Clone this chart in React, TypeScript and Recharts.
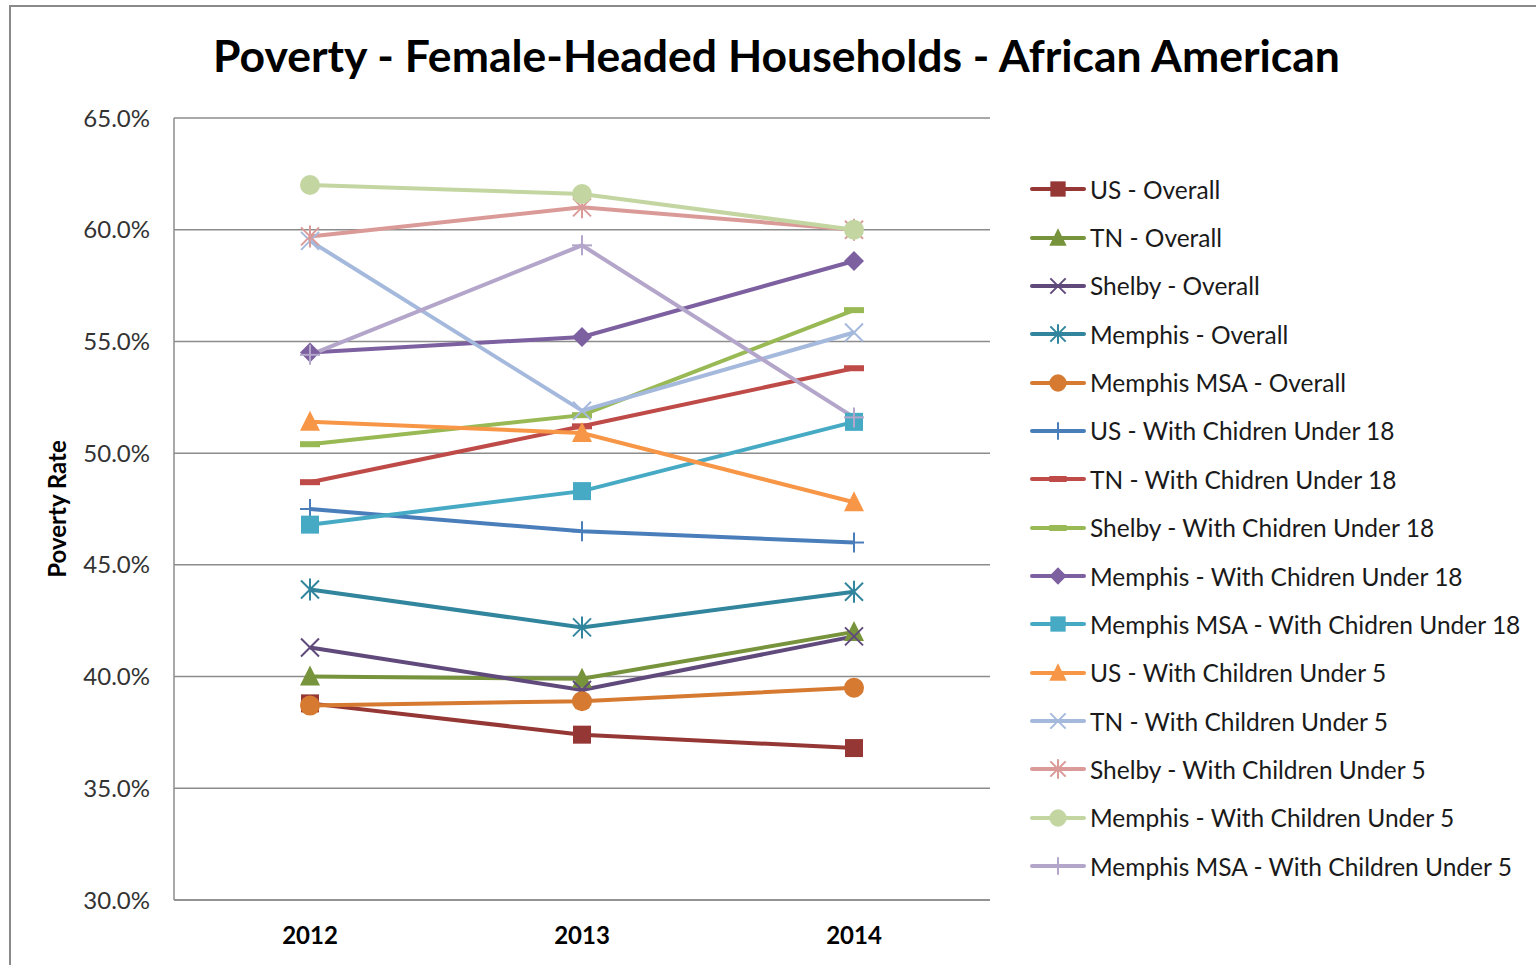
import React from 'react';
import { LineChart, Line, XAxis, YAxis, CartesianGrid } from 'recharts';

// categories and values (percent)
const years = ['2012', '2013', '2014'];
const yTicks = [30, 35, 40, 45, 50, 55, 60, 65];

const usOverall = [38.8, 37.4, 36.8];
const tnOverall = [40.0, 39.9, 42.0];
const shelbyOverall = [41.3, 39.4, 41.8];
const memphisOverall = [43.9, 42.2, 43.8];
const msaOverall = [38.7, 38.9, 39.5];
const usUnder18 = [47.5, 46.5, 46.0];
const tnUnder18 = [48.7, 51.2, 53.8];
const shelbyUnder18 = [50.4, 51.7, 56.4];
const memphisUnder18 = [54.5, 55.2, 58.6];
const msaUnder18 = [46.8, 48.3, 51.4];
const usUnder5 = [51.4, 50.9, 47.8];
const tnUnder5 = [59.5, 51.9, 55.4];
const shelbyUnder5 = [59.7, 61.0, 60.0];
const memphisUnder5 = [62.0, 61.6, 60.0];
const msaUnder5 = [54.4, 59.3, 51.6];

type Shape = 'square' | 'triangle' | 'x' | 'star' | 'circle' | 'plus' | 'diamond' | 'dash';

const series: { name: string; values: number[]; color: string; shape: Shape }[] = [
  { name: 'US - Overall', values: usOverall, color: '#953735', shape: 'square' },
  { name: 'TN - Overall', values: tnOverall, color: '#77933C', shape: 'triangle' },
  { name: 'Shelby - Overall', values: shelbyOverall, color: '#604A7B', shape: 'x' },
  { name: 'Memphis - Overall', values: memphisOverall, color: '#31859C', shape: 'star' },
  { name: 'Memphis MSA - Overall', values: msaOverall, color: '#D57A30', shape: 'circle' },
  { name: 'US - With Chidren Under 18', values: usUnder18, color: '#4A7EBB', shape: 'plus' },
  { name: 'TN - With Chidren Under 18', values: tnUnder18, color: '#BE4B48', shape: 'dash' },
  { name: 'Shelby - With Chidren Under 18', values: shelbyUnder18, color: '#98B954', shape: 'dash' },
  { name: 'Memphis - With Chidren Under 18', values: memphisUnder18, color: '#7D60A0', shape: 'diamond' },
  { name: 'Memphis MSA - With Chidren Under 18', values: msaUnder18, color: '#46AAC5', shape: 'square' },
  { name: 'US - With Children Under 5', values: usUnder5, color: '#F79646', shape: 'triangle' },
  { name: 'TN - With Children Under 5', values: tnUnder5, color: '#A5B9DD', shape: 'x' },
  { name: 'Shelby - With Children Under 5', values: shelbyUnder5, color: '#DA9A98', shape: 'star' },
  { name: 'Memphis - With Children Under 5', values: memphisUnder5, color: '#C3D6A2', shape: 'circle' },
  { name: 'Memphis MSA - With Children Under 5', values: msaUnder5, color: '#B3A6CA', shape: 'plus' },
];

const data = years.map((year, i) => {
  const row: Record<string, string | number> = { year };
  series.forEach(s => {
    row[s.name] = s.values[i];
  });
  return row;
});

const FONT = 'Lato, "Open Sans", sans-serif';

const marker = (shape: Shape, color: string, cx: number, cy: number, scale = 1) => {
  const s = 9 * scale;
  switch (shape) {
    case 'square':
      return <rect x={cx - s} y={cy - s} width={2 * s} height={2 * s} fill={color} />;
    case 'triangle':
      return (
        <polygon
          points={`${cx},${cy - s - 2} ${cx + s + 1},${cy + s} ${cx - s - 1},${cy + s}`}
          fill={color}
        />
      );
    case 'circle':
      return <circle cx={cx} cy={cy} r={s + 1} fill={color} />;
    case 'diamond':
      return (
        <polygon
          points={`${cx},${cy - s - 1} ${cx + s + 1},${cy} ${cx},${cy + s + 1} ${cx - s - 1},${cy}`}
          fill={color}
        />
      );
    case 'dash':
      return <rect x={cx - s - 1} y={cy - 3} width={2 * s + 2} height={6} fill={color} />;
    case 'x':
      return (
        <g stroke={color} strokeWidth={2}>
          <line x1={cx - s} y1={cy - s} x2={cx + s} y2={cy + s} />
          <line x1={cx - s} y1={cy + s} x2={cx + s} y2={cy - s} />
        </g>
      );
    case 'star':
      return (
        <g stroke={color} strokeWidth={2}>
          <line x1={cx - s} y1={cy - s} x2={cx + s} y2={cy + s} />
          <line x1={cx - s} y1={cy + s} x2={cx + s} y2={cy - s} />
          <line x1={cx} y1={cy - s - 2} x2={cx} y2={cy + s + 2} />
        </g>
      );
    case 'plus':
      return (
        <g stroke={color} strokeWidth={2}>
          <line x1={cx - s - 1} y1={cy} x2={cx + s + 1} y2={cy} />
          <line x1={cx} y1={cy - s - 1} x2={cx} y2={cy + s + 1} />
        </g>
      );
  }
};

const makeDot = (shape: Shape, color: string) => (props: any) => {
  const { cx, cy, index } = props;
  if (cx == null || cy == null) return <g key={index} />;
  return <g key={index}>{marker(shape, color, cx, cy)}</g>;
};

const App = () => {
  return (
    <div style={{ position: 'absolute', left: 0, top: 0, width: 1536, height: 965, background: '#fff', overflow: 'hidden' }}>
      <div
        style={{
          position: 'absolute',
          left: 9,
          top: 5,
          width: 1600,
          height: 1000,
          borderLeft: '2px solid #8a8a8a',
          borderTop: '2px solid #8a8a8a',
        }}
      />
      <div
        style={{
          position: 'absolute',
          left: 0,
          width: 1553,
          top: 28,
          textAlign: 'center',
          fontFamily: FONT,
          fontWeight: 700,
          fontSize: 44.5,
          color: '#000',
          lineHeight: '54px',
        }}
      >
        Poverty - Female-Headed Households - African American
      </div>
      <div style={{ position: 'absolute', left: 0, top: 0 }}>
        <LineChart
          width={1536}
          height={965}
          data={data}
          margin={{ top: 118, right: 546, bottom: 25, left: 10 }}
        >
          <CartesianGrid vertical={false} stroke="#8c8c8c" strokeWidth={1.5} />
          <XAxis
            dataKey="year"
            padding={{ left: 136, right: 136 }}
            axisLine={{ stroke: '#8c8c8c', strokeWidth: 1.5 }}
            tickLine={false}
            tickSize={0}
            tickMargin={27}
            height={40}
            tick={{ fill: '#000', fontSize: 24, fontWeight: 700, fontFamily: FONT }}
          />
          <YAxis
            domain={[30, 65]}
            ticks={yTicks}
            width={164}
            axisLine={{ stroke: '#8c8c8c', strokeWidth: 1.5 }}
            tickLine={false}
            tickSize={0}
            tickMargin={24}
            tickFormatter={(v: number) => `${v.toFixed(1)}%`}
            tick={{ fill: '#333', fontSize: 24, fontFamily: FONT }}
            label={{
              content: (p: any) => {
                const vb = p.viewBox;
                const x = vb.x + 50;
                const y = vb.y + vb.height / 2;
                return (
                  <text
                    x={x}
                    y={y}
                    transform={`rotate(-90, ${x}, ${y})`}
                    textAnchor="middle"
                    dominantBaseline="middle"
                    fontFamily={FONT}
                    fontWeight={700}
                    fontSize={24}
                    fill="#000"
                  >
                    Poverty Rate
                  </text>
                );
              },
            }}
          />
          {series.map(s => (
            <Line
              key={s.name}
              type="linear"
              dataKey={s.name}
              stroke={s.color}
              strokeWidth={4}
              dot={makeDot(s.shape, s.color)}
              activeDot={false}
              isAnimationActive={false}
            />
          ))}
        </LineChart>
      </div>
      {/* legend */}
      <div style={{ position: 'absolute', left: 1030, top: 165 }}>
        {series.map(s => (
          <div key={s.name} style={{ display: 'flex', alignItems: 'center', height: 48.36 }}>
            <svg width={56} height={24} style={{ marginRight: 4 }}>
              <line x1={2} y1={12} x2={54} y2={12} stroke={s.color} strokeWidth={4} strokeLinecap="round" />
              {marker(s.shape, s.color, 28, 12, 0.85)}
            </svg>
            <span style={{ fontFamily: FONT, fontSize: 24.5, color: '#1a1a1a', whiteSpace: 'nowrap' }}>{s.name}</span>
          </div>
        ))}
      </div>
    </div>
  );
};

export default App;
